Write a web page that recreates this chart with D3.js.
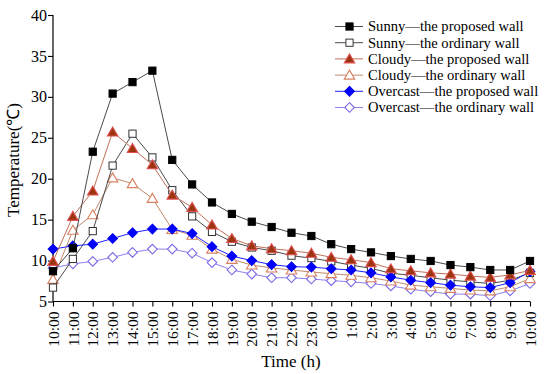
<!DOCTYPE html>
<html><head><meta charset="utf-8">
<script src="https://cdn.jsdelivr.net/npm/d3@7"></script>
<style>body{margin:0;background:#fff}svg{display:block}</style>
</head><body>
<svg id="c" width="550" height="374"></svg>
<script>
const timeLabels = ["10:00","11:00","12:00","13:00","14:00","15:00","16:00","17:00","18:00","19:00","20:00","21:00","22:00","23:00","0:00","1:00","2:00","3:00","4:00","5:00","6:00","7:00","8:00","9:00","10:00"];
const sunnyProposed   = [8.7,11.5,23.3,30.4,31.8,33.2,22.3,19.3,17.1,15.7,14.75,14.1,13.4,13.0,12.0,11.4,11.0,10.55,10.2,9.95,9.45,9.2,8.85,8.85,9.95];
const sunnyOrdinary   = [6.7,10.2,13.6,21.6,25.5,22.6,18.6,15.4,13.5,12.3,11.6,11.2,10.6,10.3,9.9,9.45,9.05,8.45,8.2,7.9,7.6,7.4,7.2,7.6,8.5];
const cloudyProposed  = [9.9,15.4,18.5,25.7,23.7,21.7,18.0,16.5,14.35,12.7,11.8,11.45,11.2,10.9,10.4,10.1,9.75,9.0,8.75,8.5,8.35,8.1,7.95,8.25,8.8];
const cloudyOrdinary  = [7.7,13.7,15.6,20.1,19.4,17.6,13.8,13.1,11.4,10.15,9.45,9.1,8.85,8.6,8.4,8.2,7.9,7.5,7.0,6.8,6.6,6.4,6.3,6.8,7.8];
const overcastProposed= [11.4,11.8,12.0,12.7,13.4,13.85,13.85,13.3,11.7,10.55,10.0,9.5,9.25,9.2,9.0,8.85,8.5,8.0,7.6,7.3,7.0,6.8,6.7,7.3,8.65];
const overcastOrdinary= [9.1,9.6,9.9,10.4,11.0,11.4,11.4,10.9,9.75,8.85,8.35,7.9,7.9,7.75,7.55,7.4,7.2,6.9,6.5,6.2,5.9,5.9,5.7,6.3,7.2];
const yTicks = [5,10,15,20,25,30,35,40];

const series = [
  {name:"Sunny\u2014the proposed wall", data:sunnyProposed, line:"#4a4a4a", shape:"square", fill:"#000", stroke:"#000"},
  {name:"Sunny\u2014the ordinary wall", data:sunnyOrdinary, line:"#4a4a4a", shape:"square", fill:"#fff", stroke:"#333"},
  {name:"Cloudy\u2014the proposed wall", data:cloudyProposed, line:"#c0705a", shape:"triangle", fill:"#9a3510", stroke:"#e05050"},
  {name:"Cloudy\u2014the ordinary wall", data:cloudyOrdinary, line:"#c08a6a", shape:"triangle", fill:"#fff", stroke:"#d88060"},
  {name:"Overcast\u2014the proposed wall", data:overcastProposed, line:"#2020ff", shape:"diamond", fill:"#0000ff", stroke:"#0000ee"},
  {name:"Overcast\u2014the ordinary wall", data:overcastOrdinary, line:"#8c80ee", shape:"diamond", fill:"#fff", stroke:"#7a6ae8"}
];

const svg = d3.select("#c");
const x = d3.scalePoint().domain(d3.range(timeLabels.length)).range([53, 530]);
const y = d3.scaleLinear().domain([5, 40]).range([301.5, 15]);
const font = "'Liberation Serif','Times New Roman',serif";

const xAxis = d3.axisBottom(x).tickSize(5).tickFormat(i => timeLabels[i]);
const gx = svg.append("g").attr("transform","translate(0,301.5)").call(xAxis);
gx.selectAll("text").attr("font-family",font).attr("font-size",15.5).attr("fill","#000")
  .attr("transform","rotate(-90)").attr("text-anchor","end").attr("dx",-10).attr("dy","0.33em").attr("x",0).attr("y",0);
const yAxis = d3.axisLeft(y).tickValues(yTicks).tickSize(5);
const gy = svg.append("g").attr("transform","translate(53,0)").call(yAxis);
gy.selectAll("text").attr("font-family",font).attr("font-size",16).attr("fill","#000").attr("x",-6);
svg.selectAll(".domain").attr("stroke","#000").attr("stroke-width",1.2);
svg.selectAll(".tick line").attr("stroke","#000").attr("stroke-width",1.1);
gx.select(".domain").attr("d","M53,0H530");
gy.select(".domain").attr("d","M0,301.5V15");

svg.append("text").attr("x",291).attr("y",367).attr("text-anchor","middle")
  .attr("font-family",font).attr("font-size",17).text("Time (h)");
svg.append("text").attr("transform","translate(19,160) rotate(-90)").attr("text-anchor","middle")
  .attr("font-family",font).attr("font-size",17).text("Temperature(\u2103)");

function marker(g, shape, cx, cy, fill, stroke){
  if(shape==="square"){
    g.append("rect").attr("x",cx-3.6).attr("y",cy-3.6).attr("width",7.2).attr("height",7.2)
      .attr("fill",fill).attr("stroke",stroke).attr("stroke-width",1);
  } else if(shape==="triangle"){
    const s=5;
    g.append("path").attr("d",`M${cx},${cy-s}L${cx+s*1.05},${cy+s*0.8}L${cx-s*1.05},${cy+s*0.8}Z`)
      .attr("fill",fill).attr("stroke",stroke).attr("stroke-width",1.1);
  } else {
    const s=4.8;
    g.append("path").attr("d",`M${cx},${cy-s}L${cx+s},${cy}L${cx},${cy+s}L${cx-s},${cy}Z`)
      .attr("fill",fill).attr("stroke",stroke).attr("stroke-width",1.1);
  }
}

const line = d3.line().x((d,i)=>x(i)).y(d=>y(d));
const order = [5,3,1,4,2,0];
order.forEach(k=>{
  const s = series[k];
  const g = svg.append("g");
  g.append("path").datum(s.data).attr("d",line).attr("fill","none").attr("stroke",s.line).attr("stroke-width",1);
  s.data.forEach((v,i)=>marker(g,s.shape,x(i),y(v),s.fill,s.stroke));
});

const lg = svg.append("g");
series.forEach((s,i)=>{
  const yy = 26.5 + i*16.2;
  lg.append("line").attr("x1",335).attr("x2",363).attr("y1",yy).attr("y2",yy).attr("stroke",s.line).attr("stroke-width",1);
  marker(lg,s.shape,349.5,yy,s.fill,s.stroke);
  lg.append("text").attr("x",368).attr("y",yy).attr("dy","0.33em").attr("font-family",font).attr("font-size",14.6).text(s.name);
});
</script>
</body></html>
